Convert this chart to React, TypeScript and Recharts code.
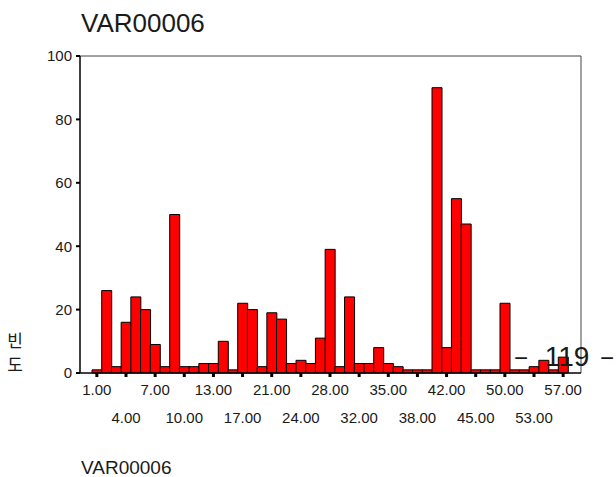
import React from 'react';
import { Bar, BarChart, CartesianGrid, XAxis, YAxis } from 'recharts';

const categories = [
  1, 2, 3, 4, 5, 6, 7, 8, 9, 10, 11, 12, 13, 14, 15, 17, 18, 19, 21, 22, 23, 24, 25, 26, 28,
  29, 30, 32, 33, 34, 35, 36, 37, 38, 39, 40, 42, 43, 44, 45, 46, 48, 50, 51, 52, 53, 54, 55, 57,
];
const frequencies = [
  1, 26, 2, 16, 24, 20, 9, 2, 50, 2, 2, 3, 3, 10, 1, 22, 20, 2, 19, 17, 3, 4, 3, 11, 39,
  2, 24, 3, 3, 8, 3, 2, 1, 1, 1, 90, 8, 55, 47, 1, 1, 1, 22, 1, 1, 2, 4, 1, 5,
];
const yTicks = [0, 20, 40, 60, 80, 100];

const title = 'VAR00006';
const xTitle = 'VAR00006';
const yTitle = ['빈', '도'];
const pageNumber = '119';

const labels = categories.map((c) => c.toFixed(2));
const data = labels.map((label, i) => ({ label, count: frequencies[i] }));

const FONT = '"Liberation Sans", Arial, sans-serif';
const TEXT = '#1a1a1a';

const XTick = (props: any) => {
  const { x, y, payload } = props;
  const idx = labels.indexOf(payload.value);
  const row = Math.floor(idx / 3) % 2;
  return (
    <text
      x={x}
      y={y}
      dy={row ? 44 : 16}
      textAnchor="middle"
      fontFamily={FONT}
      fontSize={15}
      fill={TEXT}
    >
      {payload.value}
    </text>
  );
};

// only the top and right edges of the plot frame
const topEdge = ({ offset }: any) => [offset.top];
const rightEdge = ({ offset }: any) => [offset.left + offset.width];

export default function App() {
  return (
    <div style={{ position: 'absolute', left: 0, top: 0, width: 616, height: 477, background: '#fff' }}>
      <BarChart
        width={616}
        height={477}
        data={data}
        barCategoryGap={0}
        margin={{ top: 56, right: 35, bottom: 54, left: 40 }}
      >
        <CartesianGrid
          stroke="#444"
          strokeWidth={1}
          horizontalCoordinatesGenerator={topEdge}
          verticalCoordinatesGenerator={rightEdge}
        />
        <XAxis
          dataKey="label"
          interval={2}
          padding={{ left: 12, right: 13 }}
          height={50}
          tickSize={4}
          tickLine={{ stroke: '#000', strokeWidth: 3 }}
          axisLine={{ stroke: '#000', strokeWidth: 1.5 }}
          tick={<XTick />}
        />
        <YAxis
          domain={[0, 100]}
          ticks={yTicks}
          width={40}
          tickSize={4}
          tickMargin={4}
          tickLine={{ stroke: '#000', strokeWidth: 2 }}
          axisLine={{ stroke: '#000', strokeWidth: 1.5 }}
          tick={{ fontFamily: FONT, fontSize: 15, fill: TEXT }}
        />
        <Bar dataKey="count" fill="#ff0000" stroke="#000" strokeWidth={1} isAnimationActive={false} />
      </BarChart>
      <svg
        width={616}
        height={477}
        style={{ position: 'absolute', left: 0, top: 0, pointerEvents: 'none' }}
      >
        <text x={81} y={32} fontFamily={FONT} fontSize={26} fill={TEXT}>
          {title}
        </text>
        <text x={81} y={474} fontFamily={FONT} fontSize={19} fill={TEXT}>
          {xTitle}
        </text>
        {yTitle.map((ch, i) => (
          <text
            key={ch}
            x={15}
            y={347 + i * 24}
            textAnchor="middle"
            fontFamily='"Noto Sans CJK KR", sans-serif'
            fontSize={17}
            fill={TEXT}
          >
            {ch}
          </text>
        ))}
        <text x={521} y={366} textAnchor="middle" fontFamily={FONT} fontSize={24} fill={TEXT}>
          −
        </text>
        <text x={567} y={366} textAnchor="middle" fontFamily={FONT} fontSize={28} fill={TEXT}>
          {pageNumber}
        </text>
        <text x={607} y={366} textAnchor="middle" fontFamily={FONT} fontSize={24} fill={TEXT}>
          −
        </text>
      </svg>
    </div>
  );
}
